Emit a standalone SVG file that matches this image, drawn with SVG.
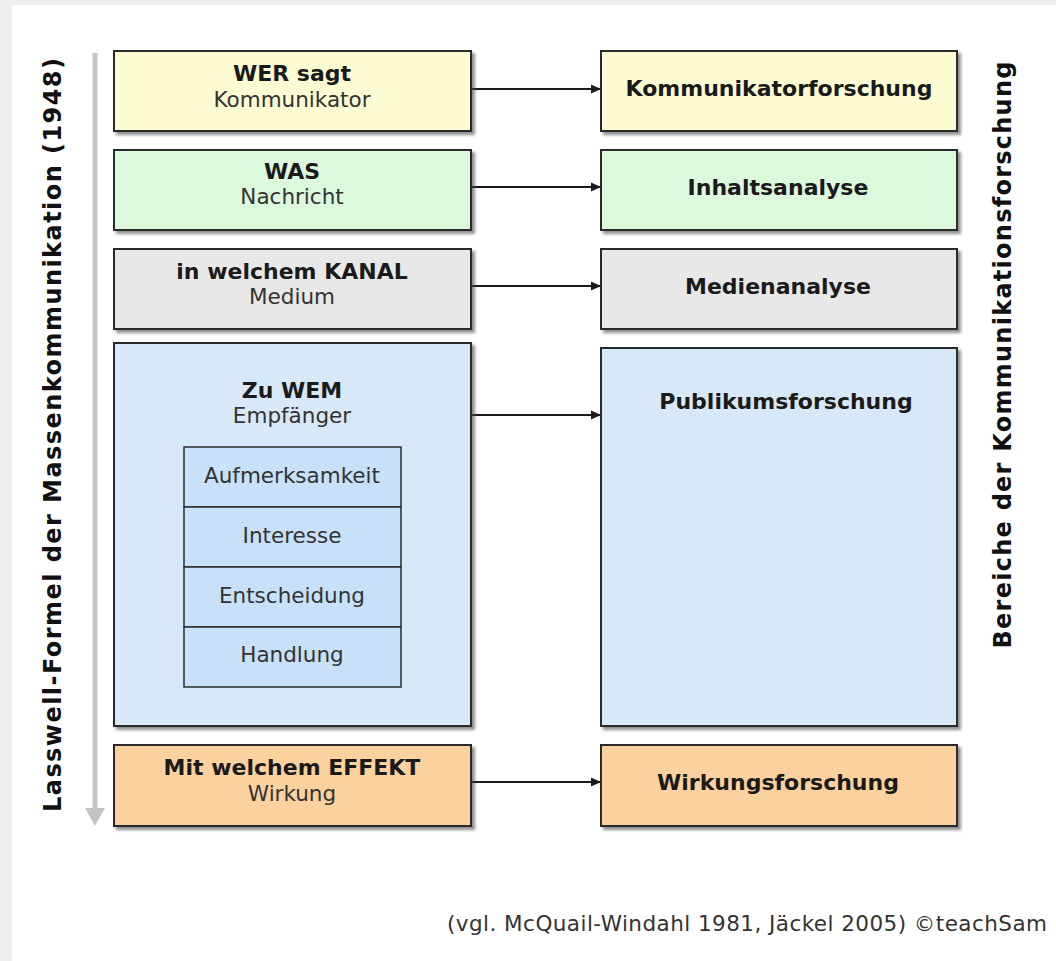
<svg xmlns="http://www.w3.org/2000/svg" width="1056" height="961" viewBox="0 0 1056 961">
<defs>
<style>
.b{font-family:"DejaVu Sans",Verdana,sans-serif;font-weight:bold;font-size:22px;fill:#1a1a1a;text-anchor:middle}
.r{font-family:"DejaVu Sans",Verdana,sans-serif;font-size:21.5px;fill:#333;text-anchor:middle}
.box{stroke:#2b2b2b;stroke-width:2;filter:url(#sh)}
.row{fill:#c8e1f9;stroke:#2b2b2b;stroke-width:1.5}
.con{stroke:#1a1a1a;stroke-width:2;fill:none;marker-end:url(#ah)}
.side{font-family:"DejaVu Sans",Verdana,sans-serif;font-weight:bold;font-size:24px;fill:#111;text-anchor:middle}
</style>
<filter id="sh" x="-5%" y="-5%" width="115%" height="115%">
<feDropShadow dx="3" dy="3" stdDeviation="1.5" flood-color="#444" flood-opacity="0.6"/>
</filter>
<marker id="ah" markerWidth="11" markerHeight="11" refX="10" refY="5.5" orient="auto" markerUnits="userSpaceOnUse">
<path d="M0,1 L10,5.5 L0,10 Z" fill="#1a1a1a"/>
</marker>
</defs>
<rect x="0" y="0" width="1056" height="961" fill="#efefef"/>
<rect x="12" y="5" width="1044" height="956" fill="#ffffff"/>

<g id="sideLeft">
<line x1="95" y1="53" x2="95" y2="810" stroke="#c3c3c3" stroke-width="5"/>
<polygon points="85,808 105,808 95,826" fill="#c3c3c3"/>
<text class="side" transform="translate(61,435) rotate(-90)" textLength="754" lengthAdjust="spacing">Lasswell-Formel der Massenkommunikation (1948)</text>
</g>
<g id="sideRight">
<text class="side" transform="translate(1011,355) rotate(-90)" textLength="587" lengthAdjust="spacing">Bereiche der Kommunikationsforschung</text>
</g>

<g id="connectors">
<line class="con" x1="471" y1="89" x2="601" y2="89"/>
<line class="con" x1="471" y1="187" x2="601" y2="187"/>
<line class="con" x1="471" y1="286" x2="601" y2="286"/>
<line class="con" x1="471" y1="415" x2="601" y2="415"/>
<line class="con" x1="471" y1="782" x2="601" y2="782"/>
</g>

<g id="wer">
<rect class="box" x="114" y="51" width="357" height="80" fill="#fdfbd2"/>
<text class="b" x="292" y="81">WER sagt</text>
<text class="r" x="292" y="107">Kommunikator</text>
</g>
<g id="was">
<rect class="box" x="114" y="150" width="357" height="80" fill="#dcf9dc"/>
<text class="b" x="292" y="179">WAS</text>
<text class="r" x="292" y="204">Nachricht</text>
</g>
<g id="kanal">
<rect class="box" x="114" y="249" width="357" height="80" fill="#e8e8e8"/>
<text class="b" x="292" y="279">in welchem KANAL</text>
<text class="r" x="292" y="304">Medium</text>
</g>
<g id="wem">
<rect class="box" x="114" y="343" width="357" height="383" fill="#d7e8f9"/>
<text class="b" x="292" y="398">Zu WEM</text>
<text class="r" x="292" y="423">Empfänger</text>
</g>
<g id="aufmerksamkeit">
<rect class="row" x="184" y="447" width="217" height="60"/>
<text class="r" x="292" y="483">Aufmerksamkeit</text>
</g>
<g id="interesse">
<rect class="row" x="184" y="507" width="217" height="60"/>
<text class="r" x="292" y="543">Interesse</text>
</g>
<g id="entscheidung">
<rect class="row" x="184" y="567" width="217" height="60"/>
<text class="r" x="292" y="603">Entscheidung</text>
</g>
<g id="handlung">
<rect class="row" x="184" y="627" width="217" height="60"/>
<text class="r" x="292" y="662">Handlung</text>
</g>
<g id="effekt">
<rect class="box" x="114" y="745" width="357" height="81" fill="#fbd19d"/>
<text class="b" x="292" y="775">Mit welchem EFFEKT</text>
<text class="r" x="292" y="801">Wirkung</text>
</g>

<g id="kommunikatorforschung">
<rect class="box" x="601" y="51" width="356" height="80" fill="#fdfbd2"/>
<text class="b" x="779" y="96">Kommunikatorforschung</text>
</g>
<g id="inhaltsanalyse">
<rect class="box" x="601" y="150" width="356" height="80" fill="#dcf9dc"/>
<text class="b" x="778" y="195">Inhaltsanalyse</text>
</g>
<g id="medienanalyse">
<rect class="box" x="601" y="249" width="356" height="80" fill="#e8e8e8"/>
<text class="b" x="778" y="294">Medienanalyse</text>
</g>
<g id="publikumsforschung">
<rect class="box" x="601" y="348" width="356" height="378" fill="#d7e8f9"/>
<text class="b" x="786" y="409">Publikumsforschung</text>
</g>
<g id="wirkungsforschung">
<rect class="box" x="601" y="745" width="356" height="81" fill="#fbd19d"/>
<text class="b" x="778" y="790">Wirkungsforschung</text>
</g>

<g id="footer">
<text class="r" x="1047" y="931" style="text-anchor:end" textLength="600" lengthAdjust="spacing">(vgl. McQuail-Windahl 1981, Jäckel 2005) ©teachSam</text>
</g>
</svg>
